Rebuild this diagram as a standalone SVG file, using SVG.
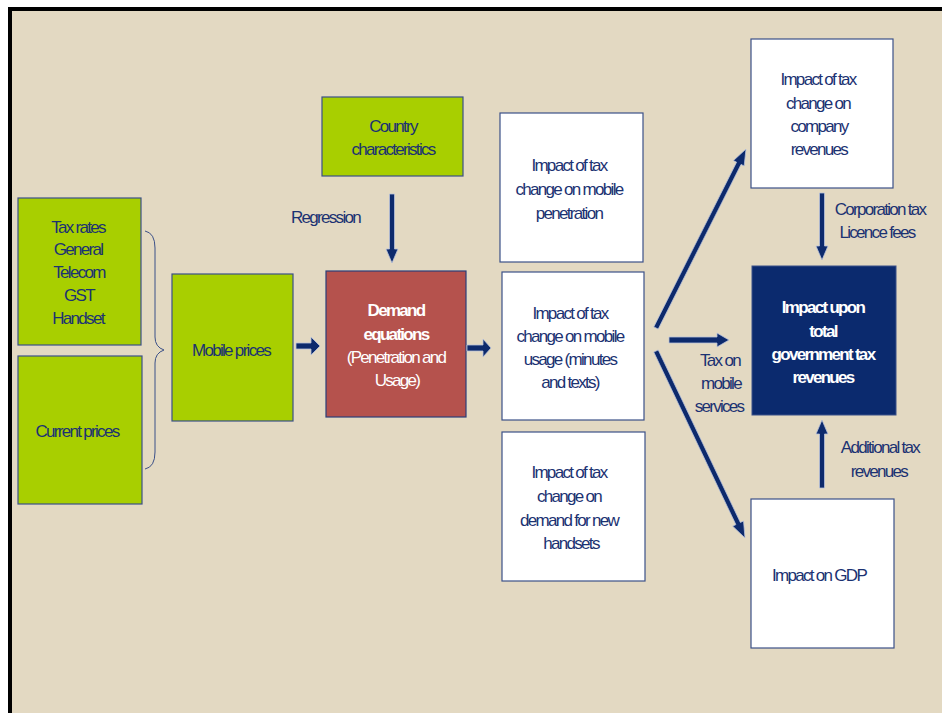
<svg xmlns="http://www.w3.org/2000/svg" width="942" height="713" viewBox="0 0 942 713">
<style>
text{font-family:"Liberation Sans",Arial,sans-serif;font-size:17px;letter-spacing:-1.7px;fill:#1b3272;text-anchor:middle}
.g{fill:#a8cf00;stroke:#3b5088;stroke-width:1.2}
.w{fill:#ffffff;stroke:#3b5088;stroke-width:1.2}
.wt{fill:#ffffff}
.b{font-weight:bold}
.arr{fill:#0d2a6c;stroke:#b9c3dc;stroke-width:0.8}
.l{text-anchor:start}
</style>
<rect x="0" y="0" width="942" height="713" fill="#ffffff"/>
<rect x="8" y="7" width="934" height="706" fill="#000000"/>
<rect x="12" y="11" width="930" height="702" fill="#e3d9c2"/>
<g id="taxrates"><rect class="g" x="18" y="198" width="123" height="147"/>
<text x="78" y="233">Tax rates</text><text x="78" y="255">General</text><text x="79" y="278">Telecom</text><text x="79" y="301">GST</text><text x="78" y="324">Handset</text></g>
<g id="current"><rect class="g" x="18" y="356" width="124" height="148"/>
<text x="77" y="437">Current prices</text></g>
<g id="brace"><path d="M145,231 Q155,233 155,248 L155,337 Q155,347 164,350 Q155,353 155,363 L155,452 Q155,467 145,469" fill="none" stroke="#3b5088" stroke-width="1"/></g>
<g id="mobile"><rect class="g" x="172" y="274" width="121" height="147"/>
<text x="231" y="356">Mobile prices</text></g>
<g id="country"><rect class="g" x="322" y="97" width="141" height="79"/>
<text x="393" y="132">Country</text><text x="393" y="155">characteristics</text></g>
<g id="regression"><text class="l" x="291" y="223">Regression</text></g>
<g id="demand"><rect x="326" y="271" width="140" height="146" fill="#b5524d" stroke="#2a3f7a" stroke-width="1.2"/>
<text class="wt b" x="396" y="316">Demand</text><text class="wt b" x="396" y="340">equations</text><text class="wt" x="396" y="363">(Penetration and</text><text class="wt" x="397" y="386">Usage)</text></g>
<g id="penetration"><rect class="w" x="500" y="113" width="143" height="149"/>
<text x="569" y="171">Impact of tax</text><text x="569" y="195">change on mobile</text><text x="569" y="219">penetration</text></g>
<g id="usage"><rect class="w" x="502" y="272" width="142" height="148"/>
<text x="570" y="319">Impact of tax</text><text x="570" y="342">change on mobile</text><text x="570" y="365">usage (minutes</text><text x="570" y="388">and texts)</text></g>
<g id="handsets"><rect class="w" x="502" y="432" width="143" height="149"/>
<text x="569" y="478">Impact of tax</text><text x="569" y="502">change on</text><text x="569" y="526">demand for new</text><text x="571" y="549">handsets</text></g>
<g id="company"><rect class="w" x="751" y="39" width="142" height="149"/>
<text x="818" y="85">Impact of tax</text><text x="818" y="109">change on</text><text x="819" y="132">company</text><text x="819" y="155">revenues</text></g>
<g id="government"><rect x="752" y="266" width="144" height="149" fill="#0b2a6e" stroke="#3b5088" stroke-width="1"/>
<text class="wt b" x="823" y="313">Impact upon</text><text class="wt b" x="823" y="337">total</text><text class="wt b" x="823" y="360">government tax</text><text class="wt b" x="823" y="383">revenues</text></g>
<g id="gdp"><rect class="w" x="751" y="499" width="143" height="149"/>
<text x="819" y="581">Impact on GDP</text></g>
<g id="connectors">
<polygon class="arr" points="296,343 311,343 311,337 320,346 311,355 311,349 296,349"/>
<polygon class="arr" points="467,345 483,345 483,339 491,348 483,357 483,351 467,351"/>
<polygon class="arr" points="389.5,194 394.5,194 394.5,249 398,249 392,263 386,249 389.5,249"/>
<polygon class="arr" points="658.23,329.12 741.04,164.41 744.17,165.99 746,149 733.45,160.59 736.58,162.17 653.77,326.88"/>
<polygon class="arr" points="653.74,352.07 735.86,524.62 732.70,526.13 745,538 743.54,520.97 740.38,522.48 658.26,349.93"/>
<polygon class="arr" points="669,337 717,337 717,333 729,340 717,347 717,343 669,343"/>
<polygon class="arr" points="819.5,193 824.5,193 824.5,246 828,246 822,260 816,246 819.5,246"/>
<polygon class="arr" points="819.5,488 824.5,488 824.5,434 828,434 822,420 816,434 819.5,434"/>
<text x="720" y="366">Tax on</text><text x="721" y="389">mobile</text><text x="719" y="412">services</text>
<text x="880" y="215">Corporation tax</text><text x="877" y="238">Licence fees</text>
<text x="880" y="453">Additional tax</text><text x="879" y="477">revenues</text>
</g>
</svg>
